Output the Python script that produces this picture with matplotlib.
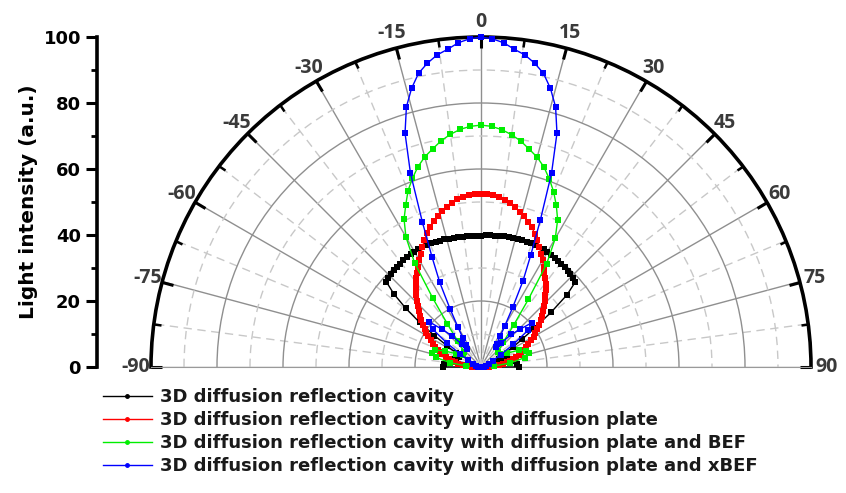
import numpy as np
import matplotlib
matplotlib.use("Agg")
import matplotlib.pyplot as plt

# angles in degrees (0 = normal direction), intensity in a.u.
black_deg = ([-90, -90, -85, -80, -75, -70, -65, -61, -58, -56, -54, -52, -50]
             + list(range(-48, 0, 2)) + list(range(0, 50, 2))
             + [50, 52, 54, 56, 58, 61, 65, 70, 75, 80, 85, 90, 90])
black_val = ([0.0, 11.5, 11.2, 10.2, 9.2, 8.0, 7.5, 8.5, 12.0, 17.0, 23.0, 29.0, 34.5,
              38.6, 39.0, 39.2, 39.4, 39.6, 39.8, 40.0, 40.1, 40.3, 40.4,
              40.5, 40.5, 40.4, 40.4, 40.3, 40.3, 40.2, 40.1, 40.0, 40.0,
              39.9, 39.9, 39.8, 39.8,
              39.8, 39.9, 40.0, 40.0, 40.1, 40.2, 40.2, 40.3, 40.3, 40.4,
              40.4, 40.5, 40.5, 40.4, 40.4, 40.3, 40.1, 40.0, 39.8, 39.6,
              39.4, 39.2, 39.0, 38.7, 38.4,
              34.0, 27.0, 20.0, 15.0, 11.5, 7.0, 6.0, 7.5, 9.0, 10.0, 11.0, 11.5, 0.0])

red_deg = list(range(-90, 91, 2))
red_val = [1.2, 2.6, 4.1, 5.6, 6.9, 8.1, 9.1, 10.1, 11.1, 12.3,
           13.1, 14.1, 15.1, 16.1, 17.3, 18.5, 19.5, 20.6, 21.8, 23.0,
           24.1, 25.4, 26.7, 27.9, 29.3, 30.6, 31.9, 33.3, 34.5, 35.9,
           37.4, 38.9, 40.5, 42.1, 43.7, 45.1, 46.4, 47.6, 48.6, 49.6,
           50.5, 51.3, 51.9, 52.3, 52.5,
           52.5, 52.4, 52.2, 51.8, 51.2, 50.4, 49.5, 48.5, 47.5, 46.3,
           45.0, 43.6, 42.0, 40.4, 38.8, 37.3, 35.8, 34.4, 33.2, 31.8,
           30.5, 29.2, 27.8, 26.6, 25.3, 24.0, 22.9, 21.7, 20.5, 19.4,
           18.4, 17.2, 16.0, 15.0, 14.0, 13.0, 12.2, 11.0, 10.0, 9.0,
           8.0, 6.8, 5.5, 4.0, 2.5, 1.0]

green_deg = [-90, -86, -82, -78, -74, -70, -66, -62, -55, -48,
             -42, -38, -35, -32.5, -30, -27.5, -25, -22.5, -20, -17.5,
             -15, -12.5, -10, -7.5, -5, -2.5,
             0, 2.5, 5, 7.5, 10, 12.5, 15, 17.5, 20, 22.5,
             25, 27.5, 30, 32.5, 35, 38, 42, 48, 55, 62,
             66, 70, 74, 78, 82, 86, 90]
green_val = [0.0, 4.5, 9.5, 14.0, 15.5, 14.8, 12.0, 8.5, 6.5, 7.0,
             10.5, 16.5, 25.5, 37.5, 45.5, 50.5, 54.0, 57.8, 60.8, 63.6,
             65.9, 67.7, 69.6, 71.1, 72.3, 73.0,
             73.3, 73.0, 72.2, 71.0, 69.5, 67.6, 65.8, 63.5, 60.6, 57.5,
             54.0, 50.3, 45.0, 37.0, 25.0, 16.0, 10.0, 7.0, 7.0, 9.0,
             12.5, 14.5, 15.0, 13.5, 9.0, 4.0, 0.0]

blue_deg = [-90, -82, -75, -68, -62, -58, -55, -52, -49, -46,
            -43, -40, -37, -34, -32, -30, -28, -26, -24, -22,
            -20, -18, -16, -14, -12, -10, -8, -6, -4, -2,
            0, 2, 4, 6, 8, 10, 12, 14, 16, 18,
            20, 22, 24, 26, 28, 30, 32, 34, 37, 40,
            43, 46, 49, 52, 55, 58, 62, 68, 75, 82, 90]
blue_val = [0.0, 1.0, 1.5, 2.5, 4.5, 7.5, 12.5, 18.5, 21.0, 16.5,
            13.0, 9.0, 7.0, 8.0, 10.5, 14.0, 20.0, 28.5, 36.5, 47.5,
            62.5, 74.5, 82.0, 87.0, 91.0, 93.5, 95.5, 96.8, 98.5, 99.5,
            100.0, 99.5, 98.5, 96.8, 95.5, 93.5, 91.0, 87.0, 82.0, 74.5,
            62.5, 48.0, 37.0, 29.0, 20.5, 14.5, 11.0, 8.5, 7.5, 9.5,
            13.5, 16.5, 20.5, 18.0, 12.0, 7.0, 4.0, 2.5, 1.5, 1.0, 0.0]

labels = ["3D diffusion reflection cavity",
          "3D diffusion reflection cavity with diffusion plate",
          "3D diffusion reflection cavity with diffusion plate and BEF",
          "3D diffusion reflection cavity with diffusion plate and xBEF"]
colors = ["black", "#ff0000", "#00ee00", "#0000ff"]

W, H = 846, 493
fig = plt.figure(figsize=(W / 100, H / 100), dpi=100)

# half polar plot: centre at (481, 367) px, radius 330 px
# (polar axes keep a square box, the half disc sits in its middle)
ax = fig.add_axes([151 / W, (H - 367 - 165) / H, 660 / W, 660 / H], projection="polar")
ax.set_theta_zero_location("N")
ax.set_theta_direction(-1)
ax.set_thetamin(-90)
ax.set_thetamax(90)
ax.set_rlim(0, 100)

ax.set_xticks(np.deg2rad(np.arange(-90, 91, 15)))
ax.set_xticklabels([str(a) for a in range(-90, 91, 15)],
                   fontfamily="Open Sans", fontweight="bold", fontsize=14, color="#3a3a3a")
ax.set_xticks(np.deg2rad(np.arange(-82.5, 90, 15)), minor=True)
ax.set_yticks([20, 40, 60, 80, 100])
ax.set_yticks([10, 30, 50, 70, 90], minor=True)
ax.set_yticklabels([])
ax.tick_params(axis="y", which="both", length=0)
# tick marks only on the outer arc, pointing to the centre
ax.xaxis.set_tick_params(which="both", tick1On=False, tick2On=True)
ax.tick_params(axis="x", which="major", direction="in", length=8, width=2.2, color="black", pad=4)
ax.tick_params(axis="x", which="minor", direction="in", length=5, width=1.8, color="black")

ax.grid(True, which="major", color="#8f8f8f", linewidth=1.0, linestyle="-")
ax.grid(True, which="minor", color="#c8c8c8", linewidth=1.0, linestyle=(0, (6, 4)))
ax.spines["polar"].set_linewidth(2.6)
ax.spines["polar"].set_color("black")
ax.spines["start"].set_color("#9a9a9a")
ax.spines["end"].set_color("#9a9a9a")
ax.spines["inner"].set_visible(False)

series = [(black_deg, black_val), (red_deg, red_val), (green_deg, green_val), (blue_deg, blue_val)]
handles = []
for (deg, val), c, lab in zip(series, colors, labels):
    ax.plot(np.deg2rad(deg), val, color=c, linewidth=1.0, marker="s",
            markersize=3.8, markeredgewidth=0, zorder=3, clip_on=False)
    h, = ax.plot([], [], color=c, linewidth=1.0, marker="o", markersize=2.5, label=lab)
    handles.append(h)

# left linear intensity axis
ax2 = fig.add_axes([97 / W, (H - 367) / H, 0.0001, 330 / H])
ax2.set_ylim(0, 100)
ax2.set_xticks([])
for s in ["top", "right", "bottom"]:
    ax2.spines[s].set_visible(False)
ax2.spines["left"].set_linewidth(2.6)
ax2.set_yticks(range(0, 101, 20))
ax2.set_yticks(range(10, 100, 20), minor=True)
ax2.tick_params(axis="y", which="major", direction="out", length=8, width=2.2, labelsize=13)
ax2.tick_params(axis="y", which="minor", direction="out", length=4, width=2.0)
for t in ax2.get_yticklabels():
    t.set_fontweight("bold")
ax2.set_ylabel("Light intensity (a.u.)", fontsize=14.5, fontweight="bold", labelpad=4)
ax2.patch.set_visible(False)

fig.legend(handles=handles, labels=labels, loc="upper left",
           bbox_to_anchor=(103 / W, (H - 388) / H), frameon=False,
           borderpad=0, borderaxespad=0, handlelength=2.7, handletextpad=0.45,
           labelspacing=0.28, prop={"weight": "bold", "size": 13})
for t in fig.legends[0].get_texts():
    t.set_color("#1a1a1a")

fig.savefig("out.png", dpi=100)
